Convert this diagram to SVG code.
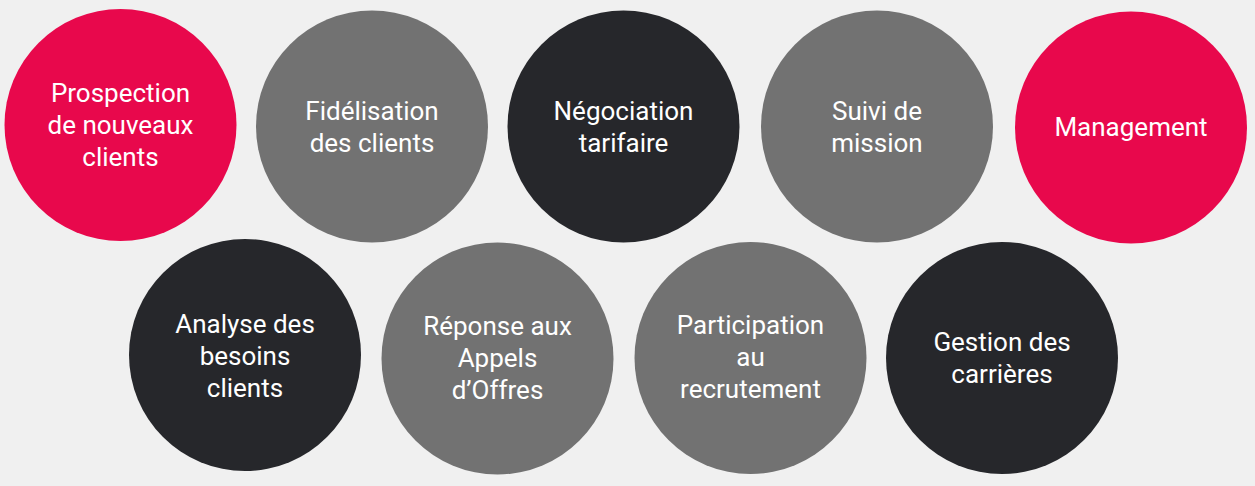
<svg xmlns="http://www.w3.org/2000/svg" width="1255" height="486" viewBox="0 0 1255 486">
<style>
.pink{fill:#E8084C}
.gray{fill:#727272}
.dark{fill:#26272B}
text{font-family:Roboto,"Liberation Sans",sans-serif;font-size:26px;fill:#FFFFFF;text-anchor:middle}
</style>
<rect x="0" y="0" width="1255" height="486" fill="#F0F0F0"/>
<g id="prospection">
<circle class="pink" cx="120.5" cy="125" r="116"/>
<text x="120.5" y="101.5">Prospection</text>
<text x="120.5" y="133.5">de nouveaux</text>
<text x="120.5" y="165.5">clients</text>
</g>
<g id="fidelisation">
<circle class="gray" cx="372" cy="126.5" r="116"/>
<text x="372" y="120">Fidélisation</text>
<text x="372" y="152">des clients</text>
</g>
<g id="negociation">
<circle class="dark" cx="623.5" cy="126.5" r="116"/>
<text x="623.5" y="120">Négociation</text>
<text x="623.5" y="152">tarifaire</text>
</g>
<g id="suivi">
<circle class="gray" cx="877" cy="126.5" r="116"/>
<text x="877" y="120">Suivi de</text>
<text x="877" y="152">mission</text>
</g>
<g id="management">
<circle class="pink" cx="1131" cy="127.5" r="116"/>
<text x="1131" y="135.5">Management</text>
</g>
<g id="analyse">
<circle class="dark" cx="245" cy="355" r="116"/>
<text x="245" y="333">Analyse des</text>
<text x="245" y="365">besoins</text>
<text x="245" y="397">clients</text>
</g>
<g id="reponse">
<circle class="gray" cx="497.5" cy="358.5" r="116"/>
<text x="497.5" y="334.5">Réponse aux</text>
<text x="497.5" y="366.5">Appels</text>
<text x="497.5" y="398.5">d’Offres</text>
</g>
<g id="participation">
<circle class="gray" cx="750.5" cy="358" r="116"/>
<text x="750.5" y="334">Participation</text>
<text x="750.5" y="366">au</text>
<text x="750.5" y="398">recrutement</text>
</g>
<g id="gestion">
<circle class="dark" cx="1002" cy="358" r="116"/>
<text x="1002" y="350.5">Gestion des</text>
<text x="1002" y="382.5">carrières</text>
</g>
<g id="connectors"></g>
</svg>
